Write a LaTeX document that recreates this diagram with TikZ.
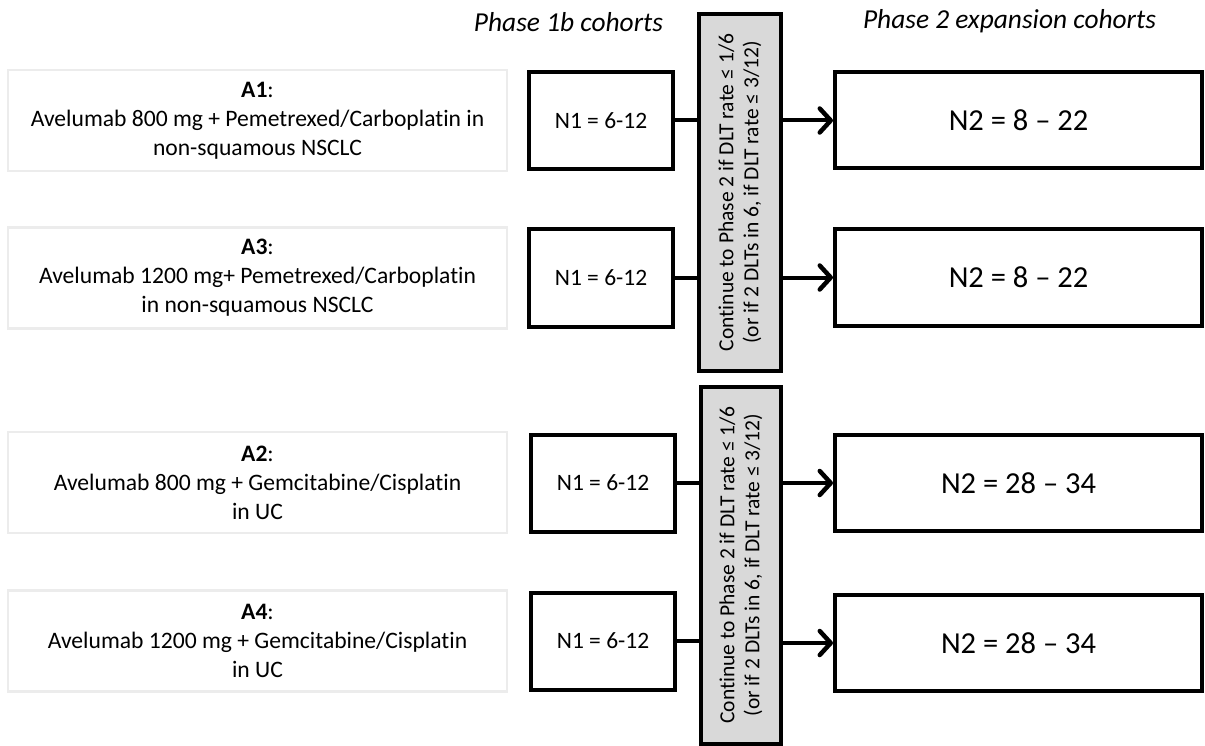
\documentclass[tikz,border=0pt]{standalone}
\usepackage{fontspec}
\setmainfont{Carlito}[Ligatures=CommonOff]
\usetikzlibrary{arrows.meta}
\definecolor{graybox}{RGB}{217,217,217}
\definecolor{lightframe}{RGB}{236,236,236}
\tikzset{
  armbox/.style={draw=lightframe, line width=2.5pt, fill=white, inner sep=0pt, align=center,
    minimum width=499pt, minimum height=101pt, font=\fontsize{23.6}{29}\selectfont},
  nonebox/.style={draw=black, line width=4pt, fill=white, inner sep=0pt,
    minimum width=144pt, minimum height=97pt, font=\fontsize{23.5}{28}\selectfont},
  ntwobox/.style={draw=black, line width=4pt, fill=white, inner sep=0pt,
    minimum width=367pt, minimum height=96pt, font=\fontsize{30.5}{36}\selectfont},
  rulebox/.style={draw=black, line width=4pt, fill=graybox, inner sep=0pt,
    minimum height=357pt},
  ruletext/.style={rotate=90, inner sep=0pt, align=center, font=\fontsize{21.5}{25}\selectfont},
  heading/.style={font=\fontsize{27.4}{32}\selectfont\itshape, inner sep=0pt},
  link/.style={line width=4pt},
  arrowlink/.style={line width=4pt, line cap=butt,
    -{Straight Barb[length=11pt,width=24pt,line width=4.5pt,round]}},
}
\begin{document}
\begin{tikzpicture}[x=1pt,y=-1pt]
\useasboundingbox (0,0) rectangle (1205,746);
% headings
\node[heading] (h1) at (568.5,22) {Phase 1b cohorts};
\node[heading] (h2) at (1009.5,21) {Phase 2 expansion cohorts};
% arm boxes
\node[armbox] (a1) at (257.5,120.5) {\textbf{A1}:\\Avelumab 800 mg + Pemetrexed/Carboplatin in\\non-squamous NSCLC};
\node[armbox] (a3) at (257.5,278) {\textbf{A3}:\\Avelumab 1200 mg+ Pemetrexed/Carboplatin\\in non-squamous NSCLC};
\node[armbox] (a2) at (257.5,482.5) {\textbf{A2}:\\Avelumab 800 mg + Gemcitabine/Cisplatin\\in UC};
\node[armbox] (a4) at (257.5,641) {\textbf{A4}:\\Avelumab 1200 mg + Gemcitabine/Cisplatin\\in UC};
% N1 boxes
\node[nonebox] (n1a) at (601,120.5) {N1 = 6-12};
\node[nonebox] (n1b) at (601,278) {N1 = 6-12};
\node[nonebox] (n1c) at (603,483) {N1 = 6-12};
\node[nonebox] (n1d) at (603,641) {N1 = 6-12};
% gray rule boxes
\node[rulebox, minimum width=82pt] (g1) at (740,192.5) {};
\node[rulebox, minimum width=80pt] (g2) at (741,565) {};
\node[ruletext] (t1) at (g1) {Continue to Phase 2 if DLT rate ≤ 1/6\\(or if 2 DLTs in 6, if DLT rate ≤ 3/12)};
\node[ruletext] (t2) at (g2) {Continue to Phase 2 if DLT rate ≤ 1/6\\(or if 2 DLTs in 6, if DLT rate ≤ 3/12)};
% N2 boxes
\node[ntwobox] (n2a) at (1018.5,120.5) {N2 = 8 – 22};
\node[ntwobox] (n2b) at (1018.5,277.5) {N2 = 8 – 22};
\node[ntwobox] (n2c) at (1018.5,483) {N2 = 28 – 34};
\node[ntwobox] (n2d) at (1018.5,643) {N2 = 28 – 34};
% connectors
\draw[link] (n1a.east) -- (n1a.east -| g1.west);
\draw[link] (n1b.east) -- (n1b.east -| g1.west);
\draw[link] (n1c.east) -- (n1c.east -| g2.west);
\draw[link] (n1d.east) -- (n1d.east -| g2.west);
\draw[arrowlink] (g1.east |- n2a.west) -- (n2a.west);
\draw[arrowlink] (g1.east |- n2b.west) -- (n2b.west);
\draw[arrowlink] (g2.east |- n2c.west) -- (n2c.west);
\draw[arrowlink] (g2.east |- n2d.west) -- (n2d.west);
\end{tikzpicture}
\end{document}
